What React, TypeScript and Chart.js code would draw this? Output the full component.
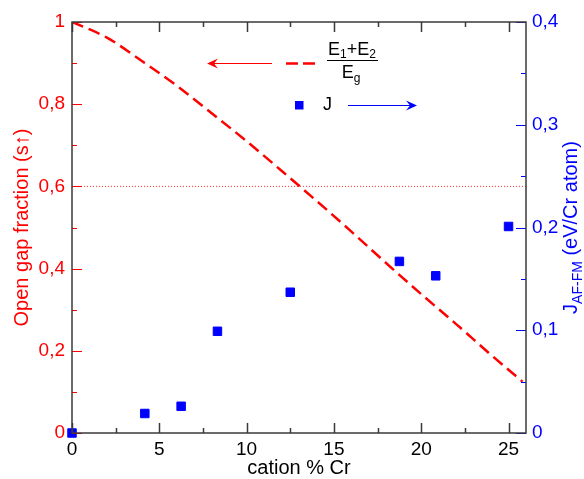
import React, { useEffect, useRef } from 'react';
import { Chart, registerables } from 'chart.js';

Chart.register(...registerables);

// ---- data ----
const crPercent = [0, 4.17, 6.25, 8.33, 12.5, 18.75, 20.83, 25];
const jValues = [0, 0.019, 0.026, 0.099, 0.137, 0.167, 0.153, 0.201];
const curveX = [0, 2, 4, 6, 8, 10, 12, 14, 16, 18, 20, 22, 24, 25.8];
const gapFraction = [1.0, 0.962, 0.905, 0.845, 0.778, 0.71, 0.638, 0.565, 0.49, 0.413, 0.338, 0.265, 0.19, 0.125];
const thresholdLevel = 0.6;
const xRange = [0, 26];
const xTicks = [0, 5, 10, 15, 20, 25];
const xMinorTicks = [2.5, 7.5, 12.5, 17.5, 22.5];
const yTicks = [0, 0.2, 0.4, 0.6, 0.8, 1];
const yMinorTicks = [0.1, 0.3, 0.5, 0.7, 0.9];
const y2Ticks = [0, 0.1, 0.2, 0.3, 0.4];
const y2MinorTicks = [0.05, 0.15, 0.25, 0.35];

const RED = '#ff0000';
const BLUE = '#0000ff';
const FRAME = '#3a3a3a';
const FONT = '"Liberation Sans", Arial, Helvetica, sans-serif';

const fmt = (v: number) => {
  const r = Math.round(v * 100) / 100;
  return String(r).replace('.', ',');
};

type Run = { t: string; size: number; dy: number };

function runsWidth(ctx: CanvasRenderingContext2D, runs: Run[]) {
  let w = 0;
  for (const r of runs) {
    ctx.font = `${r.size}px ${FONT}`;
    w += ctx.measureText(r.t).width;
  }
  return w;
}

function drawRuns(ctx: CanvasRenderingContext2D, runs: Run[], x: number, y: number) {
  let cx = x;
  for (const r of runs) {
    ctx.font = `${r.size}px ${FONT}`;
    ctx.fillText(r.t, cx, y + r.dy);
    cx += ctx.measureText(r.t).width;
  }
}

function arrow(ctx: CanvasRenderingContext2D, x1: number, x2: number, y: number, color: string) {
  // line from x1 to x2, head at x2
  const dir = Math.sign(x2 - x1);
  ctx.save();
  ctx.strokeStyle = color;
  ctx.fillStyle = color;
  ctx.lineWidth = 1.2;
  ctx.beginPath();
  ctx.moveTo(x1, y);
  ctx.lineTo(x2 - dir * 4, y);
  ctx.stroke();
  ctx.beginPath();
  ctx.moveTo(x2, y);
  ctx.lineTo(x2 - dir * 11, y - 5);
  ctx.lineTo(x2 - dir * 7, y);
  ctx.lineTo(x2 - dir * 11, y + 5);
  ctx.closePath();
  ctx.fill();
  ctx.restore();
}

const decorPlugin = {
  id: 'decor',
  afterDatasetsDraw(chart: any) {
    const ctx: CanvasRenderingContext2D = chart.ctx;
    const { left, right, top, bottom } = chart.chartArea;
    const sx = chart.scales.x;
    const sy = chart.scales.y;
    const sy2 = chart.scales.y2;
    ctx.save();

    // tick marks (inward)
    const major = 10;
    const minor = 5;
    ctx.lineWidth = 1.5;
    ctx.strokeStyle = FRAME;
    const xt = (vals: number[], len: number) => {
      for (const v of vals) {
        const px = Math.round(sx.getPixelForValue(v)) + 0.5;
        ctx.beginPath();
        ctx.moveTo(px, top);
        ctx.lineTo(px, top + len);
        ctx.moveTo(px, bottom);
        ctx.lineTo(px, bottom - len);
        ctx.stroke();
      }
    };
    xt(xTicks, major);
    xt(xMinorTicks, minor);

    ctx.strokeStyle = RED;
    ctx.lineWidth = 1;
    const yt = (vals: number[], len: number) => {
      for (const v of vals) {
        const py = Math.round(sy.getPixelForValue(v)) + 0.5;
        ctx.beginPath();
        ctx.moveTo(left, py);
        ctx.lineTo(left + len, py);
        ctx.stroke();
      }
    };
    yt(yTicks, major);
    yt(yMinorTicks, minor);

    ctx.strokeStyle = BLUE;
    const y2t = (vals: number[], len: number) => {
      for (const v of vals) {
        const py = Math.round(sy2.getPixelForValue(v)) + 0.5;
        ctx.beginPath();
        ctx.moveTo(right, py);
        ctx.lineTo(right - len, py);
        ctx.stroke();
      }
    };
    y2t(y2Ticks, major);
    y2t(y2MinorTicks, minor);

    // frame
    ctx.strokeStyle = FRAME;
    ctx.lineWidth = 1.5;
    ctx.strokeRect(left, top, right - left, bottom - top);

    // axis titles
    const cy = (top + bottom) / 2;
    ctx.fillStyle = RED;
    ctx.textBaseline = 'middle';
    ctx.textAlign = 'center';
    ctx.save();
    ctx.translate(22, cy);
    ctx.rotate(-Math.PI / 2);
    ctx.font = `20px ${FONT}`;
    ctx.fillText('Open gap fraction (s\u2191)', 0, 0);
    ctx.restore();

    ctx.fillStyle = BLUE;
    ctx.textAlign = 'left';
    ctx.save();
    ctx.translate(571, cy);
    ctx.rotate(-Math.PI / 2);
    const rt: Run[] = [
      { t: 'J', size: 20, dy: 0 },
      { t: 'AF-FM', size: 14, dy: 7 },
      { t: ' (eV/Cr atom)', size: 20, dy: 0 },
    ];
    drawRuns(ctx, rt, -runsWidth(ctx, rt) / 2, 0);
    ctx.restore();

    ctx.fillStyle = '#000';
    ctx.textAlign = 'center';
    ctx.font = `20px ${FONT}`;
    ctx.fillText('cation % Cr', (left + right) / 2, 468);

    // legend: red dashed + fraction
    ctx.strokeStyle = RED;
    ctx.lineWidth = 2.5;
    ctx.setLineDash([12, 5]);
    ctx.beginPath();
    ctx.moveTo(286, 63.5);
    ctx.lineTo(316, 63.5);
    ctx.stroke();
    ctx.setLineDash([]);
    arrow(ctx, 272, 207, 63.5, RED);

    ctx.fillStyle = '#000';
    ctx.textAlign = 'left';
    const num: Run[] = [
      { t: 'E', size: 18, dy: 0 },
      { t: '1', size: 12, dy: 5 },
      { t: '+E', size: 18, dy: 0 },
      { t: '2', size: 12, dy: 5 },
    ];
    const nw = runsWidth(ctx, num);
    drawRuns(ctx, num, 352 - nw / 2, 50);
    ctx.strokeStyle = '#000';
    ctx.lineWidth = 1;
    ctx.beginPath();
    ctx.moveTo(327, 60.5);
    ctx.lineTo(378, 60.5);
    ctx.stroke();
    const den: Run[] = [
      { t: 'E', size: 18, dy: 0 },
      { t: 'g', size: 12, dy: 6 },
    ];
    const dw = runsWidth(ctx, den);
    drawRuns(ctx, den, 351 - dw / 2, 73);

    // legend: J
    ctx.fillStyle = BLUE;
    ctx.fillRect(295, 101, 8.5, 8.5);
    ctx.fillStyle = '#000';
    ctx.font = `18px ${FONT}`;
    ctx.fillText('J', 323, 105);
    arrow(ctx, 348, 417, 105.5, BLUE);

    ctx.restore();
  },
};

export default function App() {
  const ref = useRef<HTMLCanvasElement | null>(null);
  useEffect(() => {
    if (!ref.current) return;
    const chart = new Chart(ref.current, {
      type: 'scatter',
      data: {
        datasets: [
          {
            label: 'threshold',
            type: 'line',
            data: [
              { x: xRange[0], y: thresholdLevel },
              { x: xRange[1], y: thresholdLevel },
            ],
            borderColor: 'rgba(255,0,0,0.8)',
            borderWidth: 1,
            borderDash: [1, 2],
            pointRadius: 0,
            yAxisID: 'y',
          },
          {
            label: '(E1+E2)/Eg',
            type: 'line',
            data: curveX.map((x, i) => ({ x, y: gapFraction[i] })),
            borderColor: RED,
            borderWidth: 2.5,
            borderDash: [12, 6],
            pointRadius: 0,
            cubicInterpolationMode: 'monotone',
            yAxisID: 'y',
          },
          {
            label: 'J',
            data: crPercent.map((x, i) => ({ x, y: jValues[i] })),
            backgroundColor: BLUE,
            borderColor: BLUE,
            borderWidth: 1,
            pointStyle: 'rect',
            pointRadius: 6,
            yAxisID: 'y2',
            clip: false,
          } as any,
        ],
      },
      options: {
        responsive: false,
        animation: false,
        layout: { padding: { top: 22, left: 0, right: 0, bottom: 0 } },
        plugins: { legend: { display: false }, title: { display: false }, tooltip: { enabled: false } },
        scales: {
          x: {
            type: 'linear',
            min: xRange[0],
            max: xRange[1],
            grid: { display: false, drawTicks: false },
            border: { display: false },
            afterBuildTicks: (s: any) => {
              s.ticks = xTicks.map((v) => ({ value: v }));
            },
            afterFit: (s: any) => {
              s.height = 46;
            },
            ticks: {
              color: '#000',
              font: { family: FONT, size: 19 },
              padding: 5,
              maxRotation: 0,
              callback: (v: any) => fmt(Number(v)),
            },
          },
          y: {
            type: 'linear',
            position: 'left',
            min: 0,
            max: 1,
            grid: { display: false, drawTicks: false },
            border: { display: false },
            afterBuildTicks: (s: any) => {
              s.ticks = yTicks.map((v) => ({ value: v }));
            },
            afterFit: (s: any) => {
              s.width = 72;
            },
            ticks: {
              color: RED,
              font: { family: FONT, size: 19 },
              padding: 7,
              callback: (v: any) => fmt(Number(v)),
            },
          },
          y2: {
            type: 'linear',
            position: 'right',
            min: 0,
            max: 0.4,
            grid: { display: false, drawTicks: false },
            border: { display: false },
            afterBuildTicks: (s: any) => {
              s.ticks = y2Ticks.map((v) => ({ value: v }));
            },
            afterFit: (s: any) => {
              s.width = 58;
            },
            ticks: {
              color: BLUE,
              font: { family: FONT, size: 19 },
              padding: 6,
              callback: (v: any) => fmt(Number(v)),
            },
          },
        },
      },
      plugins: [decorPlugin],
    } as any);
    return () => chart.destroy();
  }, []);
  return (
    <div style={{ position: 'absolute', left: 0, top: 0, width: 584, height: 479, background: '#fff' }}>
      <canvas ref={ref} width={584} height={479} />
    </div>
  );
}
